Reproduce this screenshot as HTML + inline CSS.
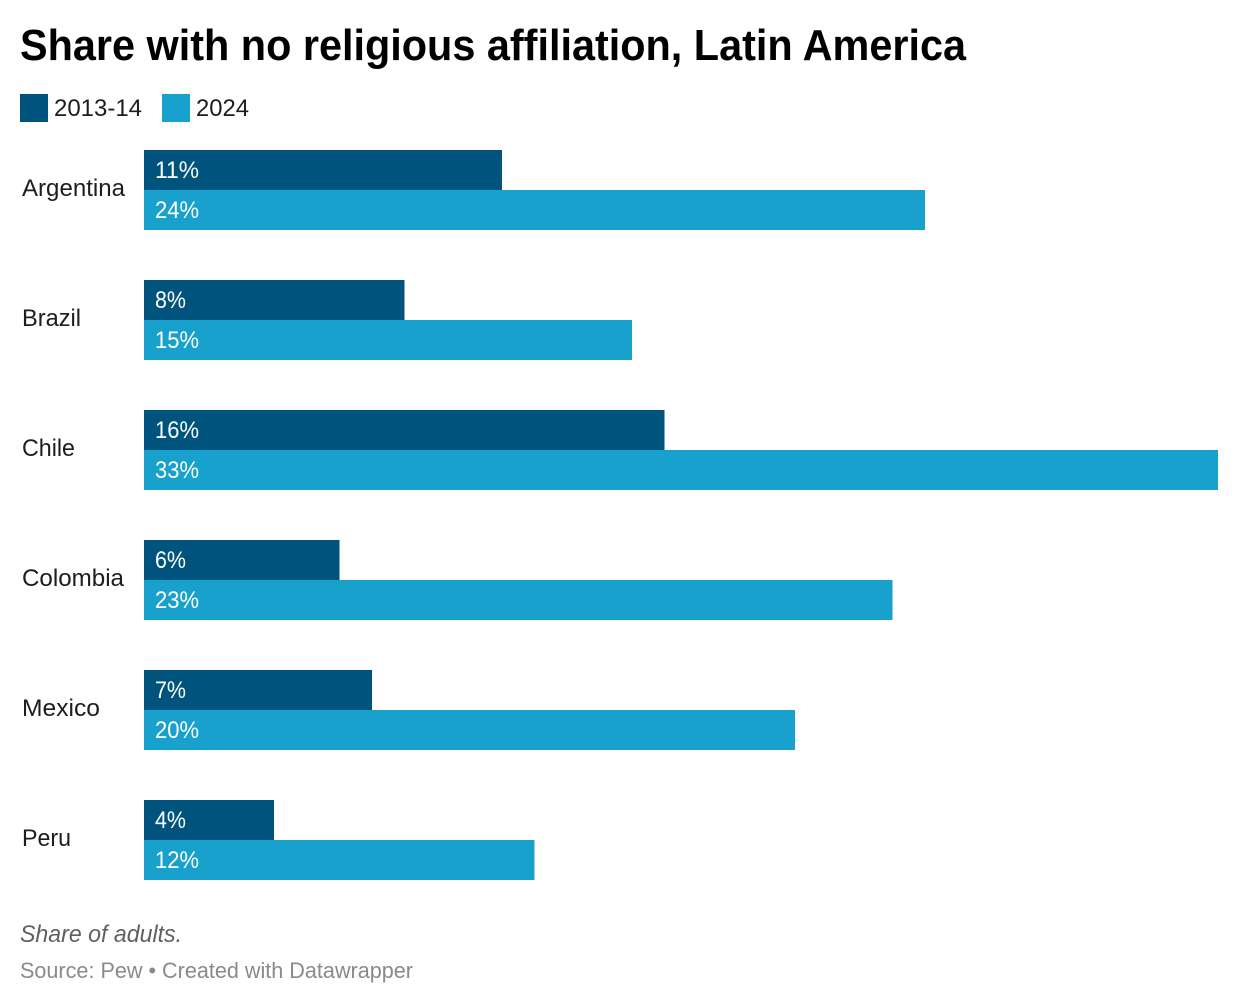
<!DOCTYPE html>
<html lang="en">
<head>
<meta charset="utf-8">
<title>Share with no religious affiliation, Latin America</title>
<style>
html,body{margin:0;padding:0;background:#fff;width:1240px;height:1004px;overflow:hidden}
svg{display:block;font-family:"Liberation Sans",sans-serif}
</style>
</head>
<body>
<svg id="chart" xmlns="http://www.w3.org/2000/svg" width="1240" height="1004" viewBox="0 0 1240 1004">
  <text x="20" y="60" font-size="44" font-weight="700" fill="#000" textLength="946" lengthAdjust="spacingAndGlyphs">Share with no religious affiliation, Latin America</text>
  <rect x="20" y="94" width="28" height="28" fill="#00537c"/>
  <text x="54" y="116" font-size="24" fill="#1d1d1d" textLength="88" lengthAdjust="spacingAndGlyphs">2013-14</text>
  <rect x="162" y="94" width="28" height="28" fill="#18a1cd"/>
  <text x="196" y="116" font-size="24" fill="#1d1d1d" textLength="53" lengthAdjust="spacingAndGlyphs">2024</text>
  <g id="bars"></g>
  <text x="20" y="942" font-size="24" font-style="italic" fill="#606060" textLength="162" lengthAdjust="spacingAndGlyphs">Share of adults.</text>
  <text x="20" y="978" font-size="22" fill="#8a8a8a" textLength="393" lengthAdjust="spacingAndGlyphs">Source: Pew • Created with Datawrapper</text>
</svg>
<script>
const categories = ["Argentina", "Brazil", "Chile", "Colombia", "Mexico", "Peru"];
const values2013 = [11, 8, 16, 6, 7, 4];
const values2024 = [24, 15, 33, 23, 20, 12];

const SVG_NS = "http://www.w3.org/2000/svg";
const X0 = 144, X_PER_UNIT = 1074 / 33;
const TOP = 150, GROUP_STEP = 130, BAR_H = 40;
const labelWidths = {Argentina: 103, Brazil: 59, Chile: 53, Colombia: 102, Mexico: 78, Peru: 49};

function xScale(v) { return v * X_PER_UNIT; }
function yScale(i) { return TOP + i * GROUP_STEP; }

const group = document.getElementById("bars");

function drawBar(i, seriesIdx, value, color, seriesName) {
  const y = yScale(i) + seriesIdx * BAR_H;
  const rect = document.createElementNS(SVG_NS, "rect");
  rect.setAttribute("x", X0);
  rect.setAttribute("y", y);
  rect.setAttribute("width", xScale(value));
  rect.setAttribute("height", BAR_H);
  rect.setAttribute("fill", color);
  rect.setAttribute("shape-rendering", "crispEdges");
  
  
  group.appendChild(rect);

  const t = document.createElementNS(SVG_NS, "text");
  t.setAttribute("x", X0 + 11);
  t.setAttribute("y", y + 28);
  t.setAttribute("font-size", "24");
  t.setAttribute("fill", "#ffffff");
  t.setAttribute("textLength", String(value).length === 1 ? 31 : 44);
  t.setAttribute("lengthAdjust", "spacingAndGlyphs");
  t.textContent = value + "%";
  
  
  group.appendChild(t);
}

categories.forEach(function (name, i) {
  const label = document.createElementNS(SVG_NS, "text");
  label.setAttribute("x", 22);
  label.setAttribute("y", yScale(i) + 46);
  label.setAttribute("font-size", "24");
  label.setAttribute("fill", "#1d1d1d");
  label.setAttribute("textLength", labelWidths[name] || name.length * 11);
  label.setAttribute("lengthAdjust", "spacingAndGlyphs");
  label.textContent = name;
  
  
  group.appendChild(label);

  drawBar(i, 0, values2013[i], "#00537c", "2013-14");
  drawBar(i, 1, values2024[i], "#18a1cd", "2024");
});
</script>
</body>
</html>
